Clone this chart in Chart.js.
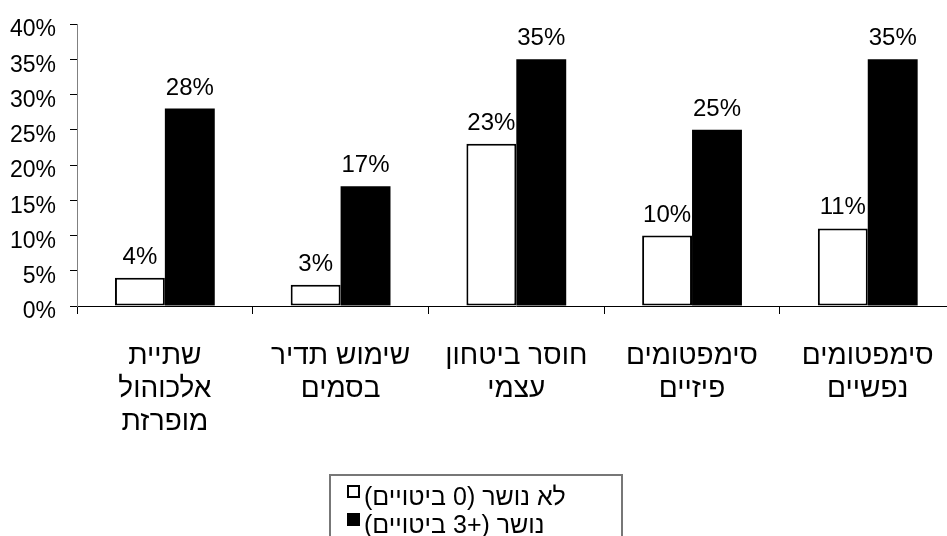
<!DOCTYPE html>
<html>
<head>
<meta charset="utf-8">
<script src="https://cdn.jsdelivr.net/npm/chart.js@4.4.1/dist/chart.umd.min.js"></script>
<style>
  html, body { margin: 0; padding: 0; background: #fff; overflow: hidden; }
  #wrap { width: 960px; height: 560px; }
</style>
</head>
<body>
<div id="wrap"><canvas id="chart" width="960" height="560"></canvas></div>
<script>
const categories = [
    ["שתיית", "אלכוהול", "מופרזת"],
    ["שימוש תדיר", "בסמים"],
    ["חוסר ביטחון", "עצמי"],
    ["סימפטומים", "פיזיים"],
    ["סימפטומים", "נפשיים"]
];
const seriesNames = ["לא נושר (0 ביטויים)", "נושר (+3 ביטויים)"];
const notDropout = [4, 3, 23, 10, 11];
const dropout = [28, 17, 35, 25, 35];
const yTicks = [0, 5, 10, 15, 20, 25, 30, 35, 40];

const FONT = "'Liberation Sans', Arial, sans-serif";

// value labels above each bar
const barLabels = {
    id: 'barLabels',
    afterDatasetsDraw(chart) {
        const ctx = chart.ctx;
        ctx.save();
        ctx.font = "24px " + FONT;
        ctx.fillStyle = '#000';
        ctx.textAlign = 'center';
        ctx.textBaseline = 'alphabetic';
        chart.data.datasets.forEach((ds, i) => {
            chart.getDatasetMeta(i).data.forEach((bar, j) => {
                ctx.fillText(ds.data[j] + '%', bar.x, bar.y - 14);
            });
        });
        ctx.restore();
    }
};

// boxed legend, one entry per line
const boxLegend = {
    id: 'boxLegend',
    afterDraw(chart, args, opts) {
        const ctx = chart.ctx;
        ctx.save();
        ctx.strokeStyle = '#777';
        ctx.lineWidth = 2;
        ctx.strokeRect(opts.left, opts.top, opts.width, opts.height);
        ctx.font = "25px " + FONT;
        ctx.direction = 'rtl';
        ctx.textAlign = 'left';
        ctx.textBaseline = 'alphabetic';
        chart.data.datasets.forEach((ds, i) => {
            const base = opts.top + 30 + i * 28;
            const bx = opts.left + 17, by = base - 20;
            ctx.fillStyle = ds.backgroundColor;
            ctx.fillRect(bx, by, 13, 13);
            ctx.strokeStyle = '#000';
            ctx.lineWidth = 2;
            ctx.strokeRect(bx + 1, by + 1, 11, 11);
            ctx.fillStyle = '#000';
            ctx.fillText(ds.label, bx + 17, base);
        });
        ctx.restore();
    }
};

new Chart(document.getElementById('chart'), {
    type: 'bar',
    data: {
        labels: categories,
        datasets: [
            {
                label: seriesNames[0],
                data: notDropout,
                backgroundColor: '#ffffff',
                borderColor: '#000000',
                borderWidth: 2,
                borderSkipped: false
            },
            {
                label: seriesNames[1],
                data: dropout,
                backgroundColor: '#000000',
                borderColor: '#000000',
                borderWidth: 0
            }
        ]
    },
    options: {
        responsive: false,
        animation: false,
        devicePixelRatio: 1,
        categoryPercentage: 0.568,
        barPercentage: 1,
        layout: { padding: { top: 24, right: 3, left: 0, bottom: 0 } },
        plugins: {
            legend: { display: false },
            tooltip: { enabled: false },
            boxLegend: { left: 330, top: 475, width: 292, height: 100 }
        },
        scales: {
            x: {
                afterFit(scale) { scale.height = 254; },
                border: { color: '#000', width: 1 },
                grid: {
                    drawOnChartArea: false,
                    drawTicks: true,
                    tickLength: 8,
                    color: '#000',
                    offset: true
                },
                ticks: {
                    color: '#000',
                    padding: 26,
                    maxRotation: 0,
                    font: { family: FONT, size: 28, lineHeight: 33 / 28 }
                }
            },
            y: {
                min: 0,
                max: 40,
                afterFit(scale) {
                    scale.width = 77;
                    scale.paddingTop = 0;
                    scale.paddingBottom = 0;
                },
                afterBuildTicks(scale) {
                    scale.ticks = yTicks.map(v => ({ value: v }));
                },
                border: { color: '#808080', width: 1 },
                grid: {
                    drawOnChartArea: false,
                    drawTicks: true,
                    tickLength: 7,
                    color: '#000'
                },
                ticks: {
                    color: '#000',
                    padding: 14,
                    labelOffset: 6,
                    font: { family: FONT, size: 23 },
                    callback: v => v + '%'
                }
            }
        }
    },
    plugins: [barLabels, boxLegend]
});
</script>
</body>
</html>
